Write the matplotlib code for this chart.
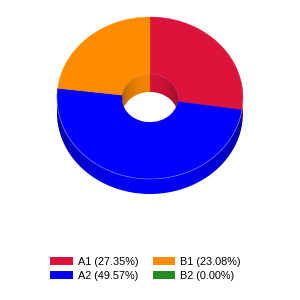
import numpy as np
import matplotlib.pyplot as plt
from matplotlib.patches import Ellipse, Polygon, Patch
from matplotlib.colors import to_rgb

labels = ['A1', 'A2', 'B1', 'B2']
values = [27.35, 49.57, 23.08, 0.00]
colors = ['#DC143C', '#0000FF', '#FF8C00', '#228B22']

# donut geometry (pixels)
cx, cy = 150, 98
rx, ry = 93, 81
irx, iry = 28, 24
depth = 15
idepth = 18


def pt(t, a, b, dy=0):
    return cx + a * np.sin(t), cy - b * np.cos(t) + dy


fig = plt.figure(figsize=(3, 3), dpi=100)
ax = fig.add_axes([0, 0, 1, 1])

total = sum(values)
edges = np.radians(np.concatenate([[0], np.cumsum(values)]) / total * 360)
rgbs = np.array([to_rgb(c) for c in colors])


def wall_image(tfun, shade):
    # one row of pixels: slice colour at each x, darkened towards the edges
    xn = np.linspace(-1, 1, 600)
    t = tfun(xn) % (2 * np.pi)
    idx = np.clip(np.searchsorted(edges, t, side='right') - 1, 0, len(colors) - 1)
    k = np.sqrt(np.clip(1 - xn ** 2, 0, 1))
    return np.clip(rgbs[idx] * shade(k)[:, None], 0, 1)[None]


# outer side (front half)
ts = np.linspace(np.pi / 2, 3 * np.pi / 2, 300)
x, y = pt(ts, rx, ry)
band = Polygon(np.column_stack([np.r_[x, x[::-1]], np.r_[y, y[::-1] + depth]]),
               closed=True, transform=ax.transData)
im = ax.imshow(wall_image(lambda xn: np.pi - np.arcsin(xn), lambda k: 0.5 + 0.47 * k),
               extent=(cx - rx, cx + rx, cy + ry + depth, cy - ry),
               interpolation='bilinear', aspect='auto', zorder=1)
im.set_clip_path(band)

# top face
for i, c in enumerate(colors):
    t0, t1 = edges[i], edges[i + 1]
    if t1 <= t0:
        continue
    ts = np.linspace(t0, t1, 200)
    ox, oy = pt(ts, rx, ry)
    ix, iy = pt(ts[::-1], irx, iry)
    ax.add_patch(Polygon(np.column_stack([np.r_[ox, ix], np.r_[oy, iy]]),
                         closed=True, facecolor=c, edgecolor=c, linewidth=0.3, zorder=2))

# light rim along the front edge
ts = np.linspace(np.pi / 2, 3 * np.pi / 2, 200)
ax.plot(*pt(ts, rx, ry), color='white', alpha=0.35, lw=0.6, zorder=2)

# inner wall seen through the hole, then the white opening
hole = Ellipse((cx, cy), 2 * irx, 2 * iry, transform=ax.transData)
im2 = ax.imshow(wall_image(lambda xn: np.arcsin(xn), lambda k: 0.62 + 0.33 * k),
                extent=(cx - irx, cx + irx, cy + iry, cy - iry),
                interpolation='bilinear', aspect='auto', zorder=3)
im2.set_clip_path(hole)
ax.add_patch(Ellipse((cx, cy + idepth), 2 * irx, 2 * iry, facecolor='white',
                     edgecolor='none', zorder=4,
                     clip_path=Ellipse((cx, cy), 2 * irx, 2 * iry, transform=ax.transData)))

ax.set_xlim(0, 300)
ax.set_ylim(300, 0)
ax.axis('off')

handles = [Patch(facecolor=c, edgecolor='none', label=f'{l} ({v:.2f}%)')
           for l, v, c in zip(labels, values, colors)]
fig.legend(handles=handles, ncol=2, loc='center',
           bbox_to_anchor=(145.5 / 300, 1 - 269 / 300), frameon=False,
           prop={'family': 'Liberation Sans', 'size': 7.8},
           handlelength=2.05, handleheight=0.75, handletextpad=0.5,
           columnspacing=1.3, labelspacing=0.35, borderpad=0)

fig.savefig('out.png', dpi=100, facecolor='white')
